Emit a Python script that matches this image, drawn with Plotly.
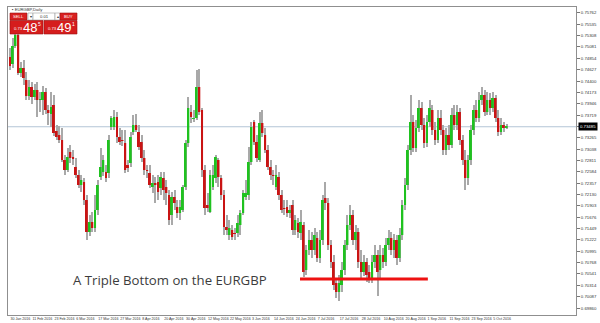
import plotly.graph_objects as go

# ---------------- data ----------------
DATES = ["30 Jan 2016", "11 Feb 2016", "23 Feb 2016", "6 Mar 2016", "17 Mar 2016",
         "27 Mar 2016", "8 Apr 2016", "20 Apr 2016", "30 Apr 2016", "12 May 2016",
         "22 May 2016", "3 Jun 2016", "14 Jun 2016", "24 Jun 2016", "7 Jul 2016",
         "17 Jul 2016", "28 Jul 2016", "10 Aug 2016", "20 Aug 2016", "1 Sep 2016",
         "11 Sep 2016", "23 Sep 2016", "5 Oct 2016"]
DATE_TICK_BARS = [0, 8, 16, 24, 32, 40, 48, 56, 64, 72, 80, 88, 96, 104, 112,
                  120, 128, 136, 144, 152, 160, 168, 176]

OPEN = [0.7488, 0.7474, 0.7510, 0.7532, 0.7456, 0.7466, 0.7442, 0.7410, 0.7428, 0.7408,
        0.7422, 0.7402, 0.7402, 0.7418, 0.7382, 0.7374, 0.7392, 0.7340, 0.7332, 0.7322,
        0.7282, 0.7262, 0.7298, 0.7286, 0.7268, 0.7252, 0.7232, 0.7238, 0.7202, 0.7138,
        0.7158, 0.7146, 0.7182, 0.7248, 0.7258, 0.7258, 0.7256, 0.7348, 0.7348, 0.7368,
        0.7328, 0.7322, 0.7316, 0.7272, 0.7276, 0.7338, 0.7352, 0.7338, 0.7318, 0.7286,
        0.7262, 0.7256, 0.7228, 0.7236, 0.7238, 0.7226, 0.7246, 0.7228, 0.7212, 0.7172,
        0.7208, 0.7188, 0.7176, 0.7182, 0.7228, 0.7316, 0.7378, 0.7364, 0.7366, 0.7428,
        0.7382, 0.7262, 0.7192, 0.7178, 0.7228, 0.7246, 0.7282, 0.7246, 0.7212, 0.7148,
        0.7132, 0.7142, 0.7136, 0.7136, 0.7152, 0.7176, 0.7208, 0.7212, 0.7278, 0.7358,
        0.7318, 0.7282, 0.7356, 0.7332, 0.7302, 0.7268, 0.7252, 0.7228, 0.7248, 0.7212,
        0.7186, 0.7188, 0.7176, 0.7192, 0.7142, 0.7156, 0.7136, 0.7152, 0.7062, 0.7102,
        0.7122, 0.7102, 0.7126, 0.7086, 0.7122, 0.7206, 0.7196, 0.7112, 0.7078, 0.7036,
        0.7018, 0.7032, 0.7062, 0.7112, 0.7152, 0.7172, 0.7122, 0.7138, 0.7078, 0.7058,
        0.7078, 0.7058, 0.7046, 0.7078, 0.7092, 0.7062, 0.7092, 0.7078, 0.7112, 0.7126,
        0.7102, 0.7122, 0.7086, 0.7132, 0.7192, 0.7232, 0.7302, 0.7358, 0.7306, 0.7346,
        0.7386, 0.7352, 0.7316, 0.7358, 0.7382, 0.7342, 0.7322, 0.7366, 0.7342, 0.7302,
        0.7332, 0.7312, 0.7372, 0.7352, 0.7378, 0.7322, 0.7282, 0.7246, 0.7282, 0.7342,
        0.7382, 0.7366, 0.7402, 0.7412, 0.7378, 0.7402, 0.7386, 0.7406, 0.7366, 0.7338,
        0.7352, 0.7346]

HIGH = [0.7506, 0.7526, 0.7542, 0.7538, 0.7478, 0.7482, 0.7458, 0.7442, 0.7438, 0.7434,
        0.7438, 0.7418, 0.7430, 0.7426, 0.7392, 0.7418, 0.7412, 0.7352, 0.7350, 0.7346,
        0.7292, 0.7306, 0.7312, 0.7302, 0.7286, 0.7262, 0.7252, 0.7246, 0.7212, 0.7172,
        0.7178, 0.7212, 0.7242, 0.7306, 0.7292, 0.7272, 0.7332, 0.7370, 0.7382, 0.7378,
        0.7346, 0.7342, 0.7342, 0.7282, 0.7338, 0.7372, 0.7374, 0.7352, 0.7332, 0.7302,
        0.7272, 0.7272, 0.7252, 0.7248, 0.7252, 0.7258, 0.7258, 0.7242, 0.7222, 0.7218,
        0.7222, 0.7202, 0.7202, 0.7232, 0.7322, 0.7408, 0.7392, 0.7382, 0.7462, 0.7464,
        0.7386, 0.7272, 0.7216, 0.7262, 0.7272, 0.7292, 0.7286, 0.7252, 0.7222, 0.7172,
        0.7162, 0.7152, 0.7146, 0.7172, 0.7182, 0.7222, 0.7242, 0.7308, 0.7358, 0.7362,
        0.7332, 0.7378, 0.7382, 0.7346, 0.7312, 0.7282, 0.7262, 0.7272, 0.7258, 0.7222,
        0.7202, 0.7202, 0.7192, 0.7202, 0.7172, 0.7166, 0.7182, 0.7158, 0.7112, 0.7142,
        0.7138, 0.7146, 0.7138, 0.7142, 0.7212, 0.7238, 0.7206, 0.7122, 0.7092, 0.7046,
        0.7052, 0.7078, 0.7122, 0.7172, 0.7192, 0.7182, 0.7152, 0.7146, 0.7102, 0.7092,
        0.7086, 0.7072, 0.7092, 0.7112, 0.7102, 0.7112, 0.7106, 0.7126, 0.7142, 0.7138,
        0.7134, 0.7132, 0.7146, 0.7202, 0.7246, 0.7312, 0.7412, 0.7372, 0.7362, 0.7402,
        0.7398, 0.7366, 0.7372, 0.7402, 0.7392, 0.7358, 0.7382, 0.7382, 0.7352, 0.7346,
        0.7352, 0.7386, 0.7392, 0.7392, 0.7386, 0.7332, 0.7302, 0.7292, 0.7352, 0.7392,
        0.7402, 0.7418, 0.7428, 0.7422, 0.7418, 0.7416, 0.7418, 0.7412, 0.7382, 0.7366,
        0.7358, 0.7354]

LOW = [0.7462, 0.7466, 0.7506, 0.7452, 0.7448, 0.7432, 0.7402, 0.7402, 0.7394, 0.7402,
       0.7368, 0.7378, 0.7372, 0.7374, 0.7352, 0.7348, 0.7330, 0.7322, 0.7316, 0.7278,
       0.7252, 0.7258, 0.7276, 0.7272, 0.7246, 0.7226, 0.7218, 0.7192, 0.7122, 0.7130,
       0.7138, 0.7138, 0.7172, 0.7242, 0.7250, 0.7238, 0.7246, 0.7342, 0.7342, 0.7316,
       0.7312, 0.7310, 0.7256, 0.7258, 0.7268, 0.7332, 0.7338, 0.7302, 0.7278, 0.7252,
       0.7246, 0.7226, 0.7216, 0.7196, 0.7202, 0.7212, 0.7202, 0.7192, 0.7152, 0.7152,
       0.7182, 0.7166, 0.7162, 0.7178, 0.7222, 0.7308, 0.7356, 0.7358, 0.7362, 0.7372,
       0.7248, 0.7172, 0.7178, 0.7176, 0.7222, 0.7236, 0.7228, 0.7202, 0.7132, 0.7132,
       0.7122, 0.7122, 0.7122, 0.7128, 0.7132, 0.7172, 0.7202, 0.7202, 0.7272, 0.7312,
       0.7278, 0.7278, 0.7328, 0.7296, 0.7262, 0.7242, 0.7232, 0.7222, 0.7202, 0.7176,
       0.7172, 0.7168, 0.7166, 0.7132, 0.7132, 0.7126, 0.7122, 0.7048, 0.7052, 0.7092,
       0.7086, 0.7092, 0.7078, 0.7076, 0.7112, 0.7182, 0.7102, 0.7066, 0.7022, 0.7006,
       0.7000, 0.7018, 0.7052, 0.7102, 0.7142, 0.7112, 0.7102, 0.7066, 0.7046, 0.7050,
       0.7038, 0.7036, 0.7036, 0.7066, 0.7010, 0.7046, 0.7066, 0.7070, 0.7102, 0.7092,
       0.7086, 0.7072, 0.7078, 0.7122, 0.7182, 0.7222, 0.7292, 0.7298, 0.7298, 0.7338,
       0.7342, 0.7306, 0.7308, 0.7348, 0.7332, 0.7312, 0.7316, 0.7332, 0.7292, 0.7292,
       0.7302, 0.7306, 0.7342, 0.7342, 0.7312, 0.7272, 0.7222, 0.7232, 0.7272, 0.7332,
       0.7358, 0.7358, 0.7392, 0.7370, 0.7372, 0.7372, 0.7378, 0.7358, 0.7330, 0.7332,
       0.7338, 0.7344]

CLOSE = [0.7470, 0.7510, 0.7532, 0.7456, 0.7466, 0.7446, 0.7410, 0.7428, 0.7408, 0.7422,
         0.7402, 0.7404, 0.7418, 0.7382, 0.7376, 0.7388, 0.7336, 0.7328, 0.7322, 0.7282,
         0.7262, 0.7288, 0.7286, 0.7285, 0.7252, 0.7232, 0.7242, 0.7202, 0.7138, 0.7158,
         0.7146, 0.7182, 0.7232, 0.7268, 0.7282, 0.7246, 0.7322, 0.7366, 0.7368, 0.7328,
         0.7318, 0.7320, 0.7262, 0.7266, 0.7328, 0.7352, 0.7342, 0.7308, 0.7286, 0.7262,
         0.7260, 0.7232, 0.7236, 0.7232, 0.7218, 0.7248, 0.7222, 0.7216, 0.7162, 0.7208,
         0.7196, 0.7176, 0.7188, 0.7228, 0.7316, 0.7386, 0.7368, 0.7366, 0.7428, 0.7378,
         0.7262, 0.7186, 0.7186, 0.7252, 0.7252, 0.7288, 0.7248, 0.7212, 0.7148, 0.7142,
         0.7146, 0.7128, 0.7134, 0.7156, 0.7176, 0.7216, 0.7216, 0.7278, 0.7348, 0.7318,
         0.7286, 0.7356, 0.7336, 0.7302, 0.7268, 0.7252, 0.7250, 0.7252, 0.7212, 0.7182,
         0.7184, 0.7176, 0.7182, 0.7142, 0.7162, 0.7138, 0.7158, 0.7058, 0.7102, 0.7122,
         0.7102, 0.7132, 0.7086, 0.7122, 0.7202, 0.7196, 0.7112, 0.7078, 0.7032, 0.7018,
         0.7036, 0.7062, 0.7112, 0.7152, 0.7172, 0.7122, 0.7138, 0.7078, 0.7058, 0.7078,
         0.7052, 0.7046, 0.7078, 0.7092, 0.7058, 0.7092, 0.7078, 0.7112, 0.7126, 0.7102,
         0.7122, 0.7086, 0.7132, 0.7192, 0.7232, 0.7302, 0.7358, 0.7306, 0.7346, 0.7386,
         0.7352, 0.7316, 0.7358, 0.7386, 0.7342, 0.7322, 0.7366, 0.7342, 0.7302, 0.7332,
         0.7312, 0.7372, 0.7352, 0.7378, 0.7322, 0.7282, 0.7246, 0.7282, 0.7342, 0.7382,
         0.7366, 0.7402, 0.7412, 0.7378, 0.7402, 0.7386, 0.7406, 0.7366, 0.7338, 0.7352,
         0.7346, 0.73485]

CURRENT_BID = 0.73485
SUPPORT_LEVEL = 0.7044
SUPPORT_FROM_BAR = 105.7
SUPPORT_TO_BAR = 152.3

n = min(len(OPEN), len(HIGH), len(LOW), len(CLOSE))
idx = list(range(n))

# ---------------- geometry helpers (pixel -> paper) ----------------
W, H = 600, 323
ML, MR, MT, MB = 8, 24, 7, 8
PW, PH = W - ML - MR, H - MT - MB


def px(x):
    return (x - ML) / PW


def py(y):
    return 1 - (y - MT) / PH


fig = go.Figure()

# wicks
fig.add_trace(go.Bar(
    x=idx, base=LOW[:n], y=[HIGH[i] - LOW[i] for i in idx], width=0.38,
    marker=dict(color="#a9a9a9", line=dict(width=0)), hoverinfo="skip"))

# bodies
MINB = 0.00012
up = [i for i in idx if CLOSE[i] > OPEN[i]]
dn = [i for i in idx if CLOSE[i] < OPEN[i]]
dj = [i for i in idx if CLOSE[i] == OPEN[i]]
fig.add_trace(go.Bar(
    x=up, base=[OPEN[i] for i in up],
    y=[max(CLOSE[i] - OPEN[i], MINB) for i in up], width=0.72,
    marker=dict(color="#1fc21f", line=dict(width=0))))
fig.add_trace(go.Bar(
    x=dn, base=[CLOSE[i] for i in dn],
    y=[max(OPEN[i] - CLOSE[i], MINB) for i in dn], width=0.72,
    marker=dict(color="#c91414", line=dict(width=0))))
if dj:
    fig.add_trace(go.Bar(
        x=dj, base=[OPEN[i] for i in dj], y=[MINB] * len(dj), width=0.72,
        marker=dict(color="#888888", line=dict(width=0))))

shapes = []
# current bid line
shapes.append(dict(type="line", xref="paper", x0=0, x1=1, yref="y",
                   y0=CURRENT_BID, y1=CURRENT_BID,
                   line=dict(color="#b3c5d6", width=1), layer="below"))
# support line (triple bottom)
shapes.append(dict(type="line", xref="x", x0=SUPPORT_FROM_BAR, x1=SUPPORT_TO_BAR,
                   yref="y", y0=SUPPORT_LEVEL, y1=SUPPORT_LEVEL,
                   line=dict(color="#ee1111", width=3), layer="above"))


def rect(x0, y0, x1, y1, fill, line="#9a1010", lw=0.6):
    shapes.append(dict(type="rect", xref="paper", yref="paper",
                       x0=px(x0), x1=px(x1), y0=py(y1), y1=py(y0),
                       fillcolor=fill, line=dict(color=line, width=lw), layer="above"))


# one-click trading widget
rect(10, 13, 27, 20, "#d92020")
rect(28, 13, 33, 20, "#ffffff", "#9a9a9a")
rect(33, 13, 55, 20, "#ffffff", "#9a9a9a")
rect(55, 13, 60, 20, "#ffffff", "#9a9a9a")
rect(60, 13, 77, 20, "#d92020")
rect(10, 20.5, 43, 34, "#d51d1d")
rect(44, 20.5, 77, 34, "#d51d1d")

ann = []


def txt(x, y, s, size, color="#ffffff", xanchor="left", family="Arial"):
    ann.append(dict(xref="paper", yref="paper", x=px(x), y=py(y), text=s,
                    showarrow=False, xanchor=xanchor, yanchor="middle",
                    font=dict(size=size, color=color, family=family)))


txt(10, 10, "▪ EURGBP,Daily", 4.2, "#333333")
txt(18.5, 16.6, "SELL", 4.2, xanchor="center")
txt(68.5, 16.6, "BUY", 4.2, xanchor="center")
txt(30.5, 16.6, "▾", 4.2, "#333333", xanchor="center")
txt(57.5, 16.6, "▴", 4.2, "#333333", xanchor="center")
txt(44, 16.6, "0.01", 4.2, "#333333", xanchor="center")
txt(12, 28.5, "0.73", 4.2)
txt(21, 27, "48", 13)
txt(36, 23.5, "5", 5)
txt(46, 28.5, "0.73", 4.2)
txt(55, 27, "49", 13)
txt(70, 23.5, "1", 5)

# headline annotation
txt(71, 280, "A Triple Bottom on the EURGBP", 13.2, "#3c3c3c", family="Open Sans")

# current price tag on the price axis
ann.append(dict(xref="paper", yref="y", x=1.0, y=CURRENT_BID, xshift=2,
                text=f"{CURRENT_BID:.5f}", showarrow=False, xanchor="left",
                yanchor="middle", bgcolor="#000000", borderpad=1,
                font=dict(size=4.3, color="#ffffff", family="Arial")))

fig.update_layout(
    width=W, height=H, margin=dict(l=ML, r=MR, t=MT, b=MB, autoexpand=False),
    paper_bgcolor="white", plot_bgcolor="white",
    barmode="overlay", showlegend=False, shapes=shapes, annotations=ann,
    xaxis=dict(range=[-0.73, 206.3], tickvals=DATE_TICK_BARS, ticktext=DATES,
               ticklabelposition="outside right", ticks="", tickangle=0,
               automargin=False, showgrid=False,
               zeroline=False, showline=True, mirror=True, linecolor="#8f8f8f",
               linewidth=1, tickfont=dict(size=3.6, color="#333333", family="Arial")),
    yaxis=dict(side="right", range=[0.6972, 0.7588], tick0=0.6986, dtick=0.00227,
               tickformat=".5f", ticks="outside", ticklen=3, tickcolor="#777777",
               automargin=False,
               showgrid=False, zeroline=False, showline=True, mirror=True,
               linecolor="#8f8f8f", linewidth=1,
               tickfont=dict(size=4.3, color="#333333", family="Arial")),
)

fig.write_html("out.html")
